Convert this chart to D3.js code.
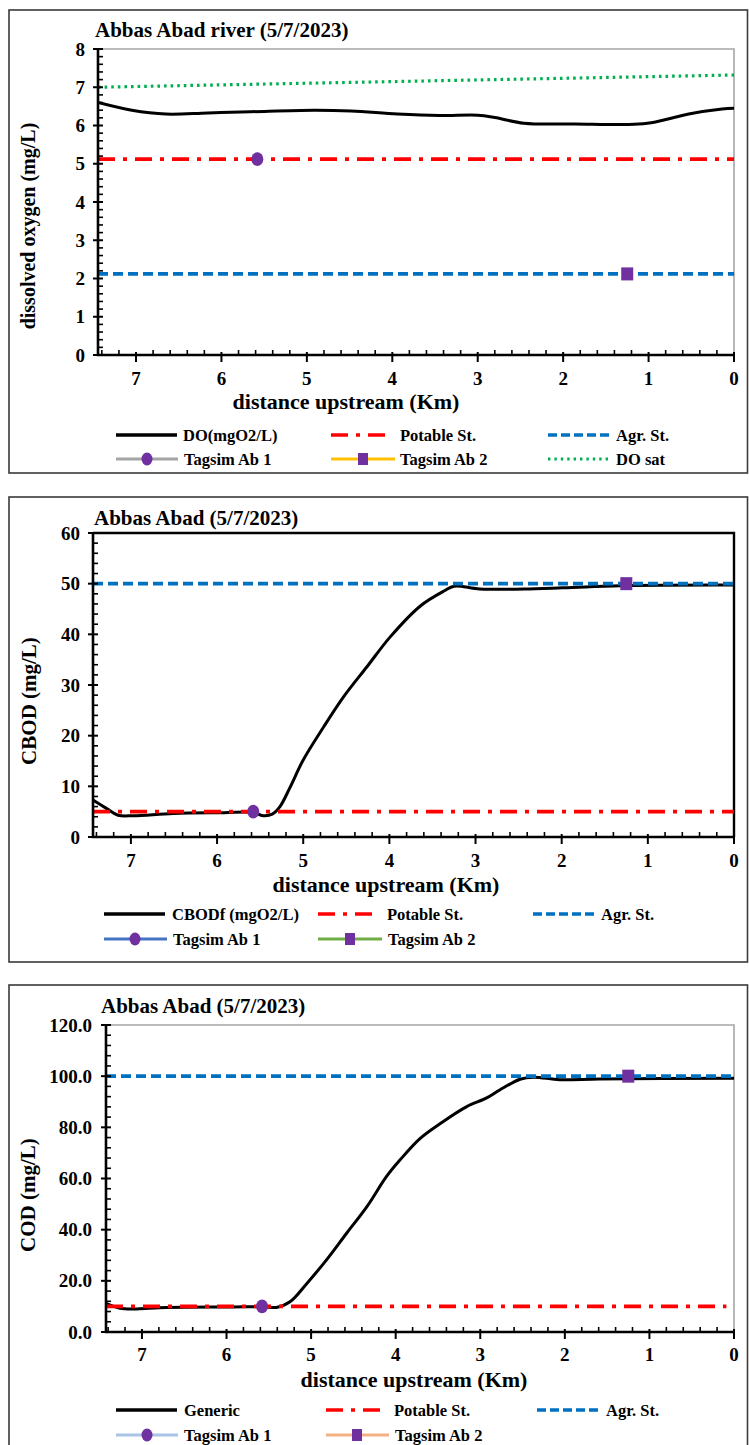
<!DOCTYPE html>
<html>
<head>
<meta charset="utf-8">
<script src="https://cdn.jsdelivr.net/npm/d3@7"></script>
<style>
  html, body { margin: 0; padding: 0; background: #fff; }
  svg { display: block; }
</style>
</head>
<body>
<svg id="chart" width="749" height="1445" font-family="'Liberation Serif', 'DejaVu Serif', serif" font-weight="bold"></svg>
<script>
// ---------------- DATA ----------------
// Chart 1: dissolved oxygen
const doKm    = [7.445, 7.05, 6.65, 6.16, 5.66, 4.92, 4.48, 3.94, 3.45, 3.0, 2.8, 2.46, 1.86, 1.17, 0.97, 0.53, 0.14, 0.0];
const doVal   = [6.60, 6.40, 6.30, 6.33, 6.36, 6.40, 6.38, 6.30, 6.26, 6.27, 6.21, 6.06, 6.04, 6.03, 6.07, 6.30, 6.43, 6.45];
const doSatKm = [7.445, 0.0];
const doSatVal = [7.00, 7.32];
const doPotable = 5.12;
const doAgr = 2.12;
const doTagsim1 = [5.58, 5.12];
const doTagsim2 = [1.25, 2.12];

// Chart 2: CBOD
const cbodKm  = [7.44, 7.28, 7.15, 6.97, 6.51, 5.92, 5.58, 5.46, 5.36, 5.27, 5.15, 5.0, 4.76, 4.53, 4.26, 3.99, 3.64, 3.36, 3.25, 2.95, 2.38, 1.8, 1.24, 0.0];
const cbodVal = [7.3, 5.6, 4.3, 4.2, 4.65, 4.8, 4.85, 4.2, 4.5, 6.0, 9.9, 15.2, 21.8, 27.7, 33.6, 39.5, 45.6, 48.6, 49.5, 48.95, 48.95, 49.3, 49.65, 49.75];
const cbodPotable = 5;
const cbodAgr = 50;
const cbodTagsim1 = [5.58, 5.0];
const cbodTagsim2 = [1.25, 50.0];

// Chart 3: COD
const codKm  = [7.425, 7.26, 7.10, 6.71, 5.92, 5.57, 5.41, 5.25, 5.05, 4.82, 4.58, 4.34, 4.11, 3.95, 3.71, 3.45, 3.16, 2.93, 2.77, 2.53, 2.37, 2.06, 1.59, 0.0];
const codVal = [11.2, 9.3, 9.0, 9.6, 9.8, 9.9, 9.6, 11.8, 19.0, 28.1, 38.6, 49.0, 60.7, 67.2, 75.7, 82.0, 88.1, 91.4, 94.6, 98.8, 99.6, 98.6, 98.9, 99.2];
const codPotable = 10;
const codAgr = 100;
const codTagsim1 = [5.58, 10.0];
const codTagsim2 = [1.25, 100.0];

// Tick labels
const xTicks = [7, 6, 5, 4, 3, 2, 1, 0];
const doYTicks = [0, 1, 2, 3, 4, 5, 6, 7, 8];
const cbodYTicks = [0, 10, 20, 30, 40, 50, 60];
const codYTicks = [0, 20, 40, 60, 80, 100, 120];

// Legend labels
const doLegend = ["DO(mgO2/L)", "Potable St.", "Agr. St.", "Tagsim Ab 1", "Tagsim Ab 2", "DO sat"];
const cbodLegend = ["CBODf (mgO2/L)", "Potable St.", "Agr. St.", "Tagsim Ab 1", "Tagsim Ab 2"];
const codLegend = ["Generic", "Potable St.", "Agr. St.", "Tagsim Ab 1", "Tagsim Ab 2"];

// ---------------- STYLES ----------------
const RED = "#ff0000", BLUE = "#0070c0", GREEN = "#00b050", PURPLE = "#7030a0";
const POT_DASH = "17,8,4,8", AGR_DASH = "10,5", SAT_DASH = "2.6,4";

const svg = d3.select("#chart");

function drawChart(cfg) {
  const g = svg.append("g");
  g.append("rect")
    .attr("x", cfg.frame[0]).attr("y", cfg.frame[1])
    .attr("width", cfg.frame[2] - cfg.frame[0]).attr("height", cfg.frame[3] - cfg.frame[1])
    .attr("fill", "none").attr("stroke", "#3a3a3a").attr("stroke-width", 1.6);

  const x = d3.scaleLinear().domain(cfg.xDomain).range([cfg.plot.left, cfg.plot.right]);
  const y = d3.scaleLinear().domain(cfg.yDomain).range([cfg.plot.bottom, cfg.plot.top]);

  g.append("path")
    .attr("d", `M${cfg.plot.left},${cfg.plot.top}H${cfg.plot.right}V${cfg.plot.bottom}`)
    .attr("fill", "none").attr("stroke", cfg.frameColor).attr("stroke-width", cfg.frameWidth);

  g.append("text").attr("x", cfg.titlePos[0]).attr("y", cfg.titlePos[1])
    .attr("font-size", 21).text(cfg.title);

  const line = d3.line().x(d => x(d[0])).y(d => y(d[1])).curve(d3.curveCatmullRom.alpha(0.5));
  const clipId = "clip" + cfg.id;
  svg.append("clipPath").attr("id", clipId).append("rect")
    .attr("x", cfg.plot.left).attr("y", cfg.plot.top - 10)
    .attr("width", cfg.plot.right - cfg.plot.left + 2).attr("height", cfg.plot.bottom - cfg.plot.top + 10);
  const pg = g.append("g").attr("clip-path", `url(#${clipId})`);

  const mainData = cfg.km.map((k, i) => [k, cfg.val[i]]);
  pg.append("path").datum(mainData).attr("d", line)
    .attr("fill", "none").attr("stroke", "#000").attr("stroke-width", 3);

  if (cfg.satKm) {
    const satData = cfg.satKm.map((k, i) => [k, cfg.satVal[i]]);
    pg.append("path").datum(satData).attr("d", d3.line().x(d => x(d[0])).y(d => y(d[1])))
      .attr("fill", "none").attr("stroke", GREEN).attr("stroke-width", 3.2)
      .attr("stroke-dasharray", SAT_DASH);
  }
  const hline = (val, color, dash, x0, x1) => {
    pg.append("line")
      .attr("x1", x(x0)).attr("x2", x(x1))
      .attr("y1", y(val)).attr("y2", y(val))
      .attr("stroke", color).attr("stroke-width", 3.6).attr("stroke-dasharray", dash);
  };
  hline(cfg.potable, RED, POT_DASH, cfg.xDomain[0], cfg.potEnd);
  hline(cfg.agr, BLUE, AGR_DASH, cfg.xDomain[0], cfg.xDomain[1]);

  g.append("ellipse").attr("cx", x(cfg.t1[0])).attr("cy", y(cfg.t1[1]))
    .attr("rx", 6).attr("ry", 6.8).attr("fill", PURPLE);
  g.append("rect").attr("x", x(cfg.t2[0]) - 6).attr("y", y(cfg.t2[1]) - 6.5)
    .attr("width", 12).attr("height", 13).attr("fill", PURPLE);

  const ax = g.append("g");
  const xMinor = d3.range(0, cfg.xDomain[0], 0.2).filter(v => Math.abs(v - Math.round(v)) > 0.01);
  ax.selectAll(".xm").data(xMinor).join("line")
    .attr("x1", d => x(d)).attr("x2", d => x(d))
    .attr("y1", cfg.plot.bottom - 5).attr("y2", cfg.plot.bottom)
    .attr("stroke", "#000").attr("stroke-width", 1.6);
  ax.selectAll(".xM").data(xTicks).join("line")
    .attr("x1", d => x(d)).attr("x2", d => x(d))
    .attr("y1", cfg.plot.bottom - 3).attr("y2", cfg.plot.bottom + 7)
    .attr("stroke", "#000").attr("stroke-width", 2);
  const yMinor = d3.range(cfg.yDomain[0], cfg.yDomain[1], cfg.yMinor)
    .filter(v => cfg.yTicks.every(t => Math.abs(t - v) > cfg.yMinor / 10));
  ax.selectAll(".ym").data(yMinor).join("line")
    .attr("x1", cfg.plot.left).attr("x2", cfg.plot.left + 5)
    .attr("y1", d => y(d)).attr("y2", d => y(d))
    .attr("stroke", "#000").attr("stroke-width", 1.6);
  ax.selectAll(".yM").data(cfg.yTicks).join("line")
    .attr("x1", cfg.plot.left - 5).attr("x2", cfg.plot.left + 5)
    .attr("y1", d => y(d)).attr("y2", d => y(d))
    .attr("stroke", "#000").attr("stroke-width", 2);
  ax.append("path")
    .attr("d", `M${cfg.plot.left},${cfg.plot.top}V${cfg.plot.bottom}H${cfg.plot.right}`)
    .attr("fill", "none").attr("stroke", "#000").attr("stroke-width", 2.6);

  ax.selectAll(".xl").data(xTicks).join("text")
    .attr("x", d => x(d)).attr("y", cfg.xLabelY).attr("text-anchor", "middle")
    .attr("font-size", 19).text(d => d);
  ax.selectAll(".yl").data(cfg.yTicks).join("text")
    .attr("x", cfg.yLabelX).attr("y", d => y(d) + 6.5).attr("text-anchor", "end")
    .attr("font-size", 19).text(d => cfg.yFmt(d));

  g.append("text").attr("x", cfg.xTitle[0]).attr("y", cfg.xTitle[1]).attr("text-anchor", "middle")
    .attr("font-size", 22).text("distance upstream (Km)");
  g.append("text")
    .attr("transform", `translate(${cfg.yTitle[0]},${cfg.yTitle[1]}) rotate(-90)`)
    .attr("text-anchor", "middle").attr("font-size", cfg.yTitleSize).text(cfg.yTitleText);

  const L = cfg.legend;
  const lg = g.append("g");
  const styles = [
    { color: "#000", dash: null, w: 3.4 },
    { color: RED, dash: POT_DASH, w: 3.6 },
    { color: BLUE, dash: "9,4", w: 3.6 },
    { color: cfg.t1Color, dash: null, w: 3, marker: "circle" },
    { color: cfg.t2Color, dash: null, w: 3, marker: "square" },
    { color: GREEN, dash: "2.4,4", w: 3 }
  ];
  cfg.legendLabels.forEach((lab, i) => {
    const e = L[i];
    const s = styles[i];
    lg.append("line").attr("x1", e.x0).attr("x2", e.x1).attr("y1", e.y).attr("y2", e.y)
      .attr("stroke", s.color).attr("stroke-width", s.w)
      .attr("stroke-dasharray", s.dash);
    if (s.marker === "circle") {
      lg.append("ellipse").attr("cx", e.m).attr("cy", e.y).attr("rx", 5.5).attr("ry", 6.5).attr("fill", PURPLE);
    } else if (s.marker === "square") {
      lg.append("rect").attr("x", e.m - 5).attr("y", e.y - 6).attr("width", 10).attr("height", 12).attr("fill", PURPLE);
    }
    lg.append("text").attr("x", e.t).attr("y", e.y + 5.5).attr("font-size", 16.5).text(lab);
  });
}

drawChart({
  id: 1,
  frame: [9, 10, 747.5, 473],
  plot: { left: 98, right: 734, top: 49, bottom: 355 },
  frameColor: "#a6a6a6", frameWidth: 1.6,
  title: "Abbas Abad river (5/7/2023)", titlePos: [95, 37],
  xDomain: [7.445, 0], yDomain: [0, 8], yTicks: doYTicks, yMinor: 0.2, yFmt: d => d,
  km: doKm, val: doVal, satKm: doSatKm, satVal: doSatVal,
  potable: doPotable, agr: doAgr, potEnd: 0, t1: doTagsim1, t2: doTagsim2,
  xLabelY: 385, yLabelX: 85, xTitle: [346, 409], yTitle: [35, 226], yTitleSize: 20,
  yTitleText: "dissolved oxygen (mg/L)",
  t1Color: "#a5a5a5", t2Color: "#ffc000",
  legendLabels: doLegend,
  legend: [
    { x0: 116, x1: 177, y: 435, t: 183 },
    { x0: 331, x1: 386, y: 435, t: 400 },
    { x0: 548, x1: 611, y: 435, t: 616 },
    { x0: 116, x1: 178, y: 459, t: 184, m: 147 },
    { x0: 331, x1: 395, y: 459, t: 400, m: 363 },
    { x0: 548, x1: 609, y: 459, t: 616 }
  ]
});

drawChart({
  id: 2,
  frame: [9, 497, 747.5, 962],
  plot: { left: 93, right: 734, top: 533, bottom: 837 },
  frameColor: "#000", frameWidth: 2.4,
  title: "Abbas Abad (5/7/2023)", titlePos: [94, 525],
  xDomain: [7.44, 0], yDomain: [0, 60], yTicks: cbodYTicks, yMinor: 2, yFmt: d => d,
  km: cbodKm, val: cbodVal,
  potable: cbodPotable, agr: cbodAgr, potEnd: 0, t1: cbodTagsim1, t2: cbodTagsim2,
  xLabelY: 867, yLabelX: 80, xTitle: [386, 892], yTitle: [36, 701], yTitleSize: 21,
  yTitleText: "CBOD (mg/L)",
  t1Color: "#4472c4", t2Color: "#70ad47",
  legendLabels: cbodLegend,
  legend: [
    { x0: 104, x1: 165, y: 914, t: 172 },
    { x0: 318, x1: 373, y: 914, t: 387 },
    { x0: 533, x1: 597, y: 914, t: 601 },
    { x0: 104, x1: 167, y: 939, t: 173, m: 135 },
    { x0: 318, x1: 382, y: 939, t: 388, m: 350 }
  ]
});

drawChart({
  id: 3,
  frame: [9, 985, 747.5, 1470],
  plot: { left: 106, right: 734, top: 1025, bottom: 1332 },
  frameColor: "#a6a6a6", frameWidth: 1.6,
  title: "Abbas Abad (5/7/2023)", titlePos: [101, 1013],
  xDomain: [7.425, 0], yDomain: [0, 120], yTicks: codYTicks, yMinor: 4, yFmt: d => d3.format(".1f")(d),
  km: codKm, val: codVal,
  potable: codPotable, agr: codAgr, potEnd: 0.09, t1: codTagsim1, t2: codTagsim2,
  xLabelY: 1361, yLabelX: 92, xTitle: [414, 1387], yTitle: [35, 1195], yTitleSize: 21,
  yTitleText: "COD (mg/L)",
  t1Color: "#a9c4e6", t2Color: "#f4b183",
  legendLabels: codLegend,
  legend: [
    { x0: 116, x1: 177, y: 1410, t: 184 },
    { x0: 326, x1: 380, y: 1410, t: 394 },
    { x0: 537, x1: 601, y: 1410, t: 606 },
    { x0: 116, x1: 178, y: 1435, t: 184, m: 147 },
    { x0: 326, x1: 389, y: 1435, t: 395, m: 357 }
  ]
});
</script>
</body>
</html>
